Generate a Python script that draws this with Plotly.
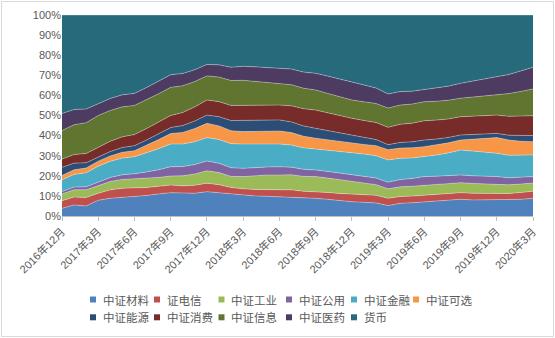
import plotly.graph_objects as go

months = [f"{y}年{m}月" for y, m in
          [(2016, 12)] + [(2017, k) for k in range(1, 13)] + [(2018, k) for k in range(1, 13)]
          + [(2019, k) for k in range(1, 13)] + [(2020, k) for k in range(1, 4)]]
tick_labels = ["2016年12月", "2017年3月", "2017年6月", "2017年9月", "2017年12月", "2018年3月",
               "2018年6月", "2018年9月", "2018年12月", "2019年3月", "2019年6月", "2019年9月",
               "2019年12月", "2020年3月"]

names = ["中证材料", "证电信", "中证工业", "中证公用", "中证金融", "中证可选",
         "中证能源", "中证消费", "中证信息", "中证医药", "货币"]
colors = ["#4F81BD", "#C0504D", "#9BBB59", "#8064A2", "#4BACC6", "#F79646",
          "#2C4D75", "#772C2A", "#5F7530", "#4D3B62", "#276A7C"]

cailiao = [3.8, 5.5, 5.0, 7.8, 8.8, 9.3, 9.5, 10.2, 11.0, 11.6, 11.5, 11.3, 12.1, 11.6, 10.8, 10.4, 10.0, 9.8, 9.6, 9.5,
           9.0, 8.8, 8.3, 7.6, 7.1, 6.8, 6.5, 5.2, 6.3, 6.6, 7.1, 7.4, 7.8, 8.3, 8.0, 8.0, 8.0, 8.0, 8.3, 8.8]
dianxin = [3.8, 3.9, 4.2, 3.5, 4.2, 4.5, 4.5, 4.0, 3.8, 3.8, 3.5, 4.0, 4.2, 4.0, 3.4, 3.1, 3.2, 3.4, 3.3, 3.5,
           3.3, 3.3, 3.4, 3.6, 3.7, 3.8, 3.8, 3.6, 3.4, 3.3, 3.3, 3.3, 3.3, 3.3, 3.3, 3.3, 3.3, 3.2, 3.4, 3.5]
gongye = [3.4, 3.6, 3.8, 4.0, 4.2, 4.4, 4.5, 4.5, 4.4, 4.5, 5.0, 5.6, 6.2, 6.0, 5.5, 6.1, 6.8, 7.2, 7.5, 7.5,
          7.4, 7.5, 7.2, 6.8, 6.3, 5.8, 5.3, 4.7, 4.8, 4.9, 5.0, 5.0, 5.0, 5.0, 4.9, 4.7, 4.5, 4.3, 4.2, 4.1]
gongyong = [1.2, 1.4, 1.5, 1.7, 2.0, 2.3, 2.5, 3.2, 3.8, 4.6, 4.6, 4.7, 4.9, 4.6, 4.3, 4.1, 4.1, 4.0, 4.1, 3.8,
            3.5, 3.3, 3.3, 3.3, 3.3, 3.3, 3.3, 3.3, 3.6, 3.9, 4.2, 4.1, 3.9, 3.8, 3.8, 3.8, 3.8, 3.5, 3.3, 3.2]
jinrong = [5.8, 6.3, 7.0, 7.8, 8.0, 8.3, 8.5, 9.5, 10.5, 11.3, 11.2, 11.4, 11.6, 11.8, 12.0, 12.1, 11.8, 11.5, 11.3, 11.0,
           10.7, 10.4, 10.6, 10.9, 11.1, 11.1, 11.1, 11.1, 10.6, 10.2, 9.9, 10.5, 11.4, 12.4, 12.3, 12.0, 11.6, 11.2, 11.0, 10.8]
kexuan = [2.2, 2.3, 2.4, 2.5, 2.7, 2.9, 3.0, 3.8, 4.5, 5.2, 5.8, 6.5, 7.1, 6.8, 6.4, 6.2, 6.3, 6.4, 6.5, 6.2,
          5.8, 5.4, 5.1, 4.9, 4.7, 4.8, 5.0, 5.1, 5.1, 5.0, 5.0, 5.0, 5.0, 5.0, 6.0, 7.0, 7.8, 7.6, 7.0, 6.6]
nengyuan = [4.0, 3.3, 2.6, 2.1, 2.2, 2.4, 2.5, 2.6, 2.8, 3.0, 3.4, 3.8, 4.1, 4.6, 5.1, 5.5, 5.5, 5.5, 5.5, 5.3,
            5.1, 4.9, 4.6, 4.3, 4.1, 3.5, 3.0, 2.5, 2.8, 3.0, 3.3, 3.0, 2.7, 2.5, 2.3, 2.2, 2.1, 2.4, 2.8, 3.0]
xiaofei = [4.1, 4.3, 4.6, 4.9, 5.1, 5.3, 5.5, 5.7, 5.8, 6.0, 6.5, 7.0, 7.5, 7.5, 7.5, 7.5, 7.4, 7.4, 7.4, 8.0,
           8.6, 9.1, 8.8, 8.5, 8.3, 8.4, 8.5, 8.6, 9.0, 9.3, 9.6, 9.4, 9.2, 9.1, 9.1, 9.1, 9.1, 9.4, 9.7, 9.9]
xinxi = [14.2, 14.8, 15.3, 15.7, 15.3, 14.9, 14.5, 14.3, 14.2, 14.0, 13.3, 12.6, 12.0, 12.2, 12.4, 12.5, 11.9, 11.3, 10.8, 10.5,
         10.2, 10.0, 9.7, 9.4, 9.1, 9.3, 9.5, 9.6, 9.6, 9.5, 9.5, 9.4, 9.3, 9.2, 9.5, 9.9, 10.3, 11.3, 12.3, 13.3]
yiyao = [8.5, 7.6, 6.8, 6.0, 6.0, 6.0, 6.0, 6.1, 6.2, 6.3, 6.1, 5.9, 5.7, 6.1, 6.6, 7.0, 7.2, 7.3, 7.5, 7.8,
         8.0, 8.3, 8.6, 8.9, 9.1, 8.4, 7.7, 7.0, 6.7, 6.4, 6.1, 6.5, 7.0, 7.4, 7.9, 8.4, 8.8, 9.5, 10.2, 10.8]
huobi = [49.0, 47.0, 46.8, 44.0, 41.5, 39.7, 39.0, 36.1, 33.0, 29.7, 29.1, 27.2, 24.6, 24.8, 26.0, 25.5, 25.8, 26.2, 26.5, 26.9,
         28.4, 29.0, 30.4, 31.8, 33.2, 34.8, 36.3, 39.3, 38.1, 37.9, 37.0, 36.4, 35.4, 34.0, 32.9, 31.6, 30.7, 29.6, 27.8, 26.0]

series = [cailiao, dianxin, gongye, gongyong, jinrong, kexuan, nengyuan, xiaofei, xinxi, yiyao, huobi]

fig = go.Figure()
for name, vals, c in zip(names, series, colors):
    fig.add_trace(go.Scatter(
        x=months, y=vals, name=name, stackgroup="one", groupnorm="percent",
        mode="lines", line=dict(width=0.7, color="rgba(255,255,255,0.45)"),
        fillcolor=c, showlegend=False, hoverinfo="skip"))

font_family = "Liberation Sans, Noto Sans CJK SC, sans-serif"
PL, PR, PT, PB = 62, 533, 15, 216
PW, PH = PR - PL, PB - PT

fig.update_layout(
    width=555, height=338, autosize=False,
    margin=dict(l=PL, r=555 - PR, t=PT, b=338 - PB, autoexpand=False),
    paper_bgcolor="white", plot_bgcolor="white",
    font=dict(family=font_family, size=11, color="#595959"),
    xaxis=dict(type="category", categoryorder="array", categoryarray=months,
               range=[0, len(months) - 1],
               tickmode="array", tickvals=months[::3], ticktext=tick_labels,
               tickangle=-45, ticks="outside", ticklen=4, tickcolor="#BFBFBF",
               showline=True, linecolor="#BFBFBF", linewidth=1,
               showgrid=False, zeroline=False,
               tickfont=dict(size=11, color="#595959")),
    yaxis=dict(range=[0, 100], tickmode="array", tickvals=list(range(0, 101, 10)),
               ticktext=[f"{v}%" for v in range(0, 101, 10)],
               showgrid=False, zeroline=False, showline=False, ticks="",
               tickfont=dict(size=11, color="#595959")),
    showlegend=False,
)


def px_x(px):
    return (px - PL) / PW


def px_y(py):
    return (PB - py) / PH


# manual legend: two rows, six columns
col_left = [90, 154, 218.5, 286, 351, 413]
row_center = [299.5, 317.3]
sq = 6
for i, (name, c) in enumerate(zip(names, colors)):
    r, k = divmod(i, 6)
    x0 = col_left[k]
    yc = row_center[r]
    fig.add_shape(type="rect", xref="paper", yref="paper",
                  x0=px_x(x0), x1=px_x(x0 + sq), y0=px_y(yc + sq / 2), y1=px_y(yc - sq / 2),
                  line=dict(width=0), fillcolor=c)
    fig.add_annotation(xref="paper", yref="paper", x=px_x(x0 + 10.5), y=px_y(yc),
                       xanchor="left", yanchor="middle", text=name, showarrow=False,
                       font=dict(size=11.5, color="#595959",
                                 family="Noto Sans CJK SC, sans-serif"))

fig.add_shape(type="rect", xref="paper", yref="paper",
              x0=px_x(1.5), x1=px_x(553.5), y0=px_y(336.5), y1=px_y(1.5),
              line=dict(color="#D9D9D9", width=1), fillcolor="rgba(0,0,0,0)", layer="below")

fig.write_html("out.html")
